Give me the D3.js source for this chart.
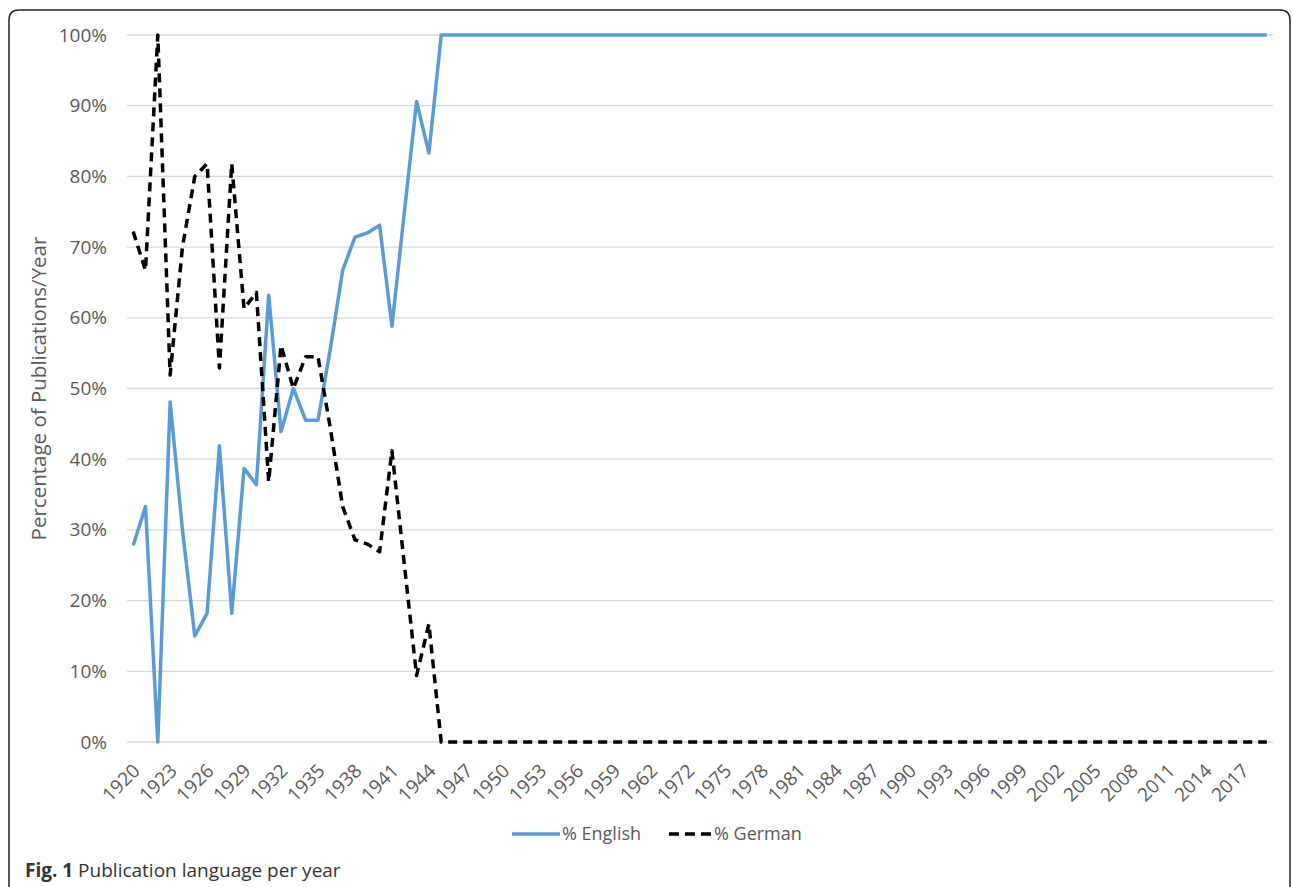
<!DOCTYPE html>
<html>
<head>
<meta charset="utf-8">
<script src="https://cdn.jsdelivr.net/npm/d3@7"></script>
<style>
  body { margin: 0; background: #fff; }
  svg { display: block; }
  text { font-family: "Open Sans", "Noto Sans", sans-serif; }
</style>
</head>
<body>
<svg id="chart" width="1293" height="887"></svg>
<script>
// ---- data ----
const categories = [
  "1920","1921","1922","1923","1924","1925","1926","1927","1928","1929",
  "1930","1931","1932","1933","1934","1935","1936","1937","1938","1939",
  "1940","1941","1942","1943","1944","1945","1946","1947","1948","1949",
  "1950","1951","1952","1953","1954","1955","1956","1957","1958","1959",
  "1960","1961","1962","1964","1968","1972","1973","1974","1975","1976",
  "1977","1978","1979","1980","1981","1982","1983","1984","1985","1986",
  "1987","1988","1989","1990","1991","1992","1993","1994","1995","1996",
  "1997","1998","1999","2000","2001","2002","2003","2004","2005","2006",
  "2007","2008","2009","2010","2011","2012","2013","2014","2015","2016",
  "2017","2018","2019"
];
const english = [
  27.8, 33.3, 0, 48.1, 30.0, 15.0, 18.2, 41.9, 18.2, 38.7,
  36.4, 63.2, 43.9, 50.0, 45.5, 45.5, 55.6, 66.7, 71.4, 72.0,
  73.1, 58.8, 74.8, 90.6, 83.3, 100, 100, 100, 100, 100,
  100, 100, 100, 100, 100, 100, 100, 100, 100, 100,
  100, 100, 100, 100, 100, 100, 100, 100, 100, 100,
  100, 100, 100, 100, 100, 100, 100, 100, 100, 100,
  100, 100, 100, 100, 100, 100, 100, 100, 100, 100,
  100, 100, 100, 100, 100, 100, 100, 100, 100, 100,
  100, 100, 100, 100, 100, 100, 100, 100, 100, 100,
  100, 100, 100
];
const german = [
  72.2, 66.7, 100, 51.9, 70.0, 80.0, 81.8, 52.9, 81.8, 61.3,
  63.6, 36.8, 56.1, 50.0, 54.5, 54.5, 44.4, 33.3, 28.6, 28.0,
  26.9, 41.2, 25.2, 9.4, 16.7, 0, 0, 0, 0, 0,
  0, 0, 0, 0, 0, 0, 0, 0, 0, 0,
  0, 0, 0, 0, 0, 0, 0, 0, 0, 0,
  0, 0, 0, 0, 0, 0, 0, 0, 0, 0,
  0, 0, 0, 0, 0, 0, 0, 0, 0, 0,
  0, 0, 0, 0, 0, 0, 0, 0, 0, 0,
  0, 0, 0, 0, 0, 0, 0, 0, 0, 0,
  0, 0, 0
];
const yTicks = [0, 10, 20, 30, 40, 50, 60, 70, 80, 90, 100];
const xTickLabels = categories.filter((c, i) => i % 3 === 0);
const seriesNames = ["% English", "% German"];
const yTitle = "Percentage of Publications/Year";
const captionBold = "Fig. 1";
const captionText = " Publication language per year";

// ---- layout ----
const svg = d3.select("#chart");
const plot = { left: 127, right: 1273, top: 35, bottom: 742 };
const textColor = "#595959";

// frame
svg.append("path")
  .attr("d", "M9,900 L9,20 Q9,10 19,10 L1280,10 Q1290,10 1290,20 L1290,900")
  .attr("fill", "none").attr("stroke", "#222").attr("stroke-width", 1.5);

const x = d3.scaleBand().domain(categories).range([plot.left, plot.right]);
const y = d3.scaleLinear().domain([0, 100]).range([plot.bottom, plot.top]);
const cx = c => x(c) + x.bandwidth() / 2;

// gridlines
svg.append("g").selectAll("line").data(yTicks).join("line")
  .attr("x1", plot.left).attr("x2", plot.right)
  .attr("y1", d => y(d)).attr("y2", d => y(d))
  .attr("stroke", "#d9d9d9").attr("stroke-width", 1.3);

// y axis labels
const yAxis = d3.axisLeft(y).tickValues(yTicks).tickSize(0).tickPadding(0)
  .tickFormat(d => d + "%");
const gy = svg.append("g").attr("transform", `translate(107,0)`).call(yAxis);
gy.select(".domain").remove();
gy.selectAll("text").attr("fill", textColor).style("font-size", "19px")
  .style("font-family", '"Open Sans", sans-serif');

// x axis labels
const xAxis = d3.axisBottom(x).tickValues(xTickLabels).tickSize(0).tickPadding(0);
const gx = svg.append("g").attr("transform", `translate(0,${plot.bottom})`).call(xAxis);
gx.select(".domain").remove();
gx.selectAll("text")
  .attr("fill", textColor).style("font-size", "19px")
  .style("font-family", '"Open Sans", sans-serif')
  .attr("text-anchor", "end")
  .attr("dy", null).attr("y", null)
  .attr("transform", "translate(3,25) rotate(-45)")
  .attr("dominant-baseline", "central");

// y title
svg.append("text")
  .attr("transform", `translate(46,${(plot.top + plot.bottom) / 2}) rotate(-90)`)
  .attr("text-anchor", "middle").attr("fill", textColor)
  .style("font-size", "20.5px").text(yTitle);

// lines
const line = vals => d3.line()
  .x((d, i) => cx(categories[i]))
  .y(d => y(d))(vals);

svg.append("path").attr("d", line(english))
  .attr("fill", "none").attr("stroke", "#5b9bd5").attr("stroke-width", 3.5)
  .attr("stroke-linejoin", "round");
svg.append("path").attr("d", line(german))
  .attr("fill", "none").attr("stroke", "#000").attr("stroke-width", 3.5)
  .attr("stroke-dasharray", "9,6").attr("stroke-linejoin", "round");

// legend
const lg = svg.append("g");
lg.append("line").attr("x1", 512).attr("x2", 560).attr("y1", 834).attr("y2", 834)
  .attr("stroke", "#5b9bd5").attr("stroke-width", 3.5);
lg.append("text").attr("x", 562).attr("y", 840).attr("fill", textColor)
  .style("font-size", "18px").text(seriesNames[0]);
lg.append("line").attr("x1", 669).attr("x2", 711).attr("y1", 834).attr("y2", 834)
  .attr("stroke", "#000").attr("stroke-width", 3.5).attr("stroke-dasharray", "10,6");
lg.append("text").attr("x", 714).attr("y", 840).attr("fill", textColor)
  .style("font-size", "18px").text(seriesNames[1]);

// caption
const cap = svg.append("text").attr("x", 25).attr("y", 877).attr("fill", "#333")
  .style("font-size", "19px");
cap.append("tspan").style("font-weight", "bold").text(captionBold);
cap.append("tspan").text(captionText);
</script>
</body>
</html>
